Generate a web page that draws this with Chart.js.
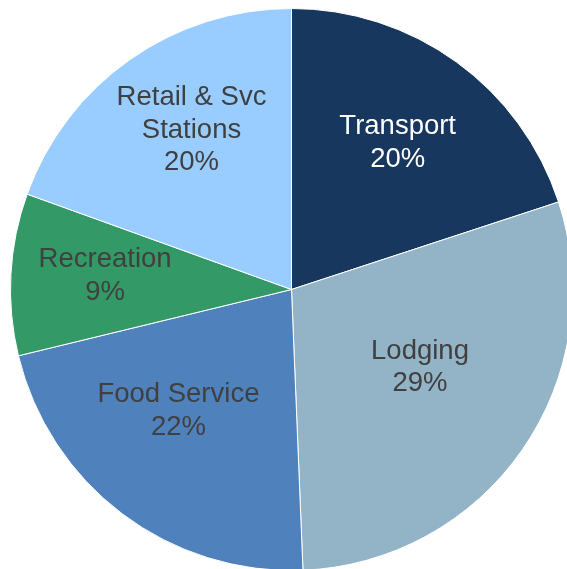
<!DOCTYPE html>
<html>
<head>
<meta charset="utf-8">
<script src="https://cdn.jsdelivr.net/npm/chart.js@4"></script>
<style>
  html, body { margin: 0; padding: 0; background: #fff; overflow: hidden; width: 567px; height: 569px; }
  #wrap { position: absolute; left: 10px; top: 8px; width: 563px; height: 563px; }
</style>
</head>
<body>
<div id="wrap"><canvas id="pie"></canvas></div>
<script>
// ── data ──
const categories = ['Transport', 'Lodging', 'Food Service', 'Recreation', 'Retail & Svc Stations'];
const shares     = [19.96, 29.39, 21.86, 9.3, 19.49];
const pctLabels  = ['20%', '29%', '22%', '9%', '20%'];
// how the category names wrap inside the slices
const nameLines  = [['Transport'], ['Lodging'], ['Food Service'], ['Recreation'], ['Retail & Svc', 'Stations']];

// ── style ──
const sliceColors = ['#17375e', '#93b3c6', '#4f81bd', '#339966', '#99ccff'];
const textColors  = ['#ffffff', '#404040', '#404040', '#404040', '#404040'];
const labelFrac   = [0.644, 0.535, 0.59, 0.665, 0.67];  // distance from centre, × radius
const labelNudge  = [0, -3.5, 6, 1, 3];                 // degrees

// draw the in-slice labels (category + percent)
const sliceLabels = {
  id: 'sliceLabels',
  afterDatasetsDraw(chart) {
    const ctx = chart.ctx;
    const arcs = chart.getDatasetMeta(0).data;
    ctx.save();
    ctx.font = '27.5px "Liberation Sans", Arial, sans-serif';
    ctx.textAlign = 'center';
    ctx.textBaseline = 'middle';
    arcs.forEach((arc, i) => {
      const p = arc.getProps(['x', 'y', 'startAngle', 'endAngle', 'outerRadius'], true);
      const mid = (p.startAngle + p.endAngle) / 2 + labelNudge[i] * Math.PI / 180;
      const r = p.outerRadius * labelFrac[i];
      const cx = p.x + Math.cos(mid) * r;
      const cy = p.y + Math.sin(mid) * r;
      const lines = [...nameLines[i], pctLabels[i]];
      const lh = 32.5;
      const y0 = cy - (lines.length - 1) * lh / 2;
      ctx.fillStyle = textColors[i];
      lines.forEach((t, k) => ctx.fillText(t, cx, y0 + k * lh));
    });
    ctx.restore();
  }
};

new Chart(document.getElementById('pie'), {
  type: 'pie',
  data: {
    labels: categories,
    datasets: [{
      data: shares,
      backgroundColor: sliceColors,
      borderColor: '#ffffff',
      borderWidth: 1,
      hoverOffset: 0
    }]
  },
  options: {
    responsive: true,
    maintainAspectRatio: false,
    animation: false,
    layout: { padding: 0 },
    plugins: { legend: { display: false }, tooltip: { enabled: false } }
  },
  plugins: [sliceLabels]
});
</script>
</body>
</html>
